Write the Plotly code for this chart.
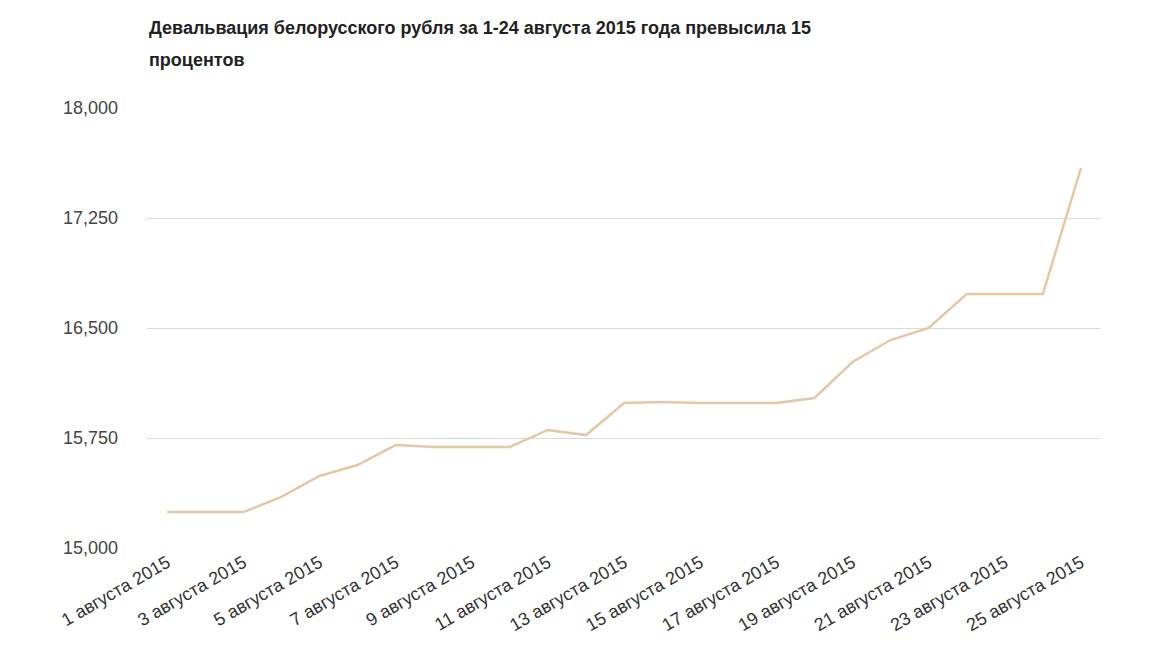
import plotly.graph_objects as go

days = list(range(1, 26))
dates = [f"{d} августа 2015" for d in days]
rates = [15245, 15245, 15245, 15348, 15491, 15566, 15702, 15689, 15689, 15689,
         15805, 15770, 15989, 15996, 15989, 15989, 15989, 16023, 16268, 16418,
         16500, 16732, 16732, 16732, 17591]
y_ticks = [15000, 15750, 16500, 17250, 18000]
x_ticks = dates[::2]
title_lines = ["Девальвация белорусского рубля за 1-24 августа 2015 года превысила 15",
               "процентов"]

fig = go.Figure(go.Scatter(
    x=dates, y=rates, mode="lines",
    line=dict(color="#e6c7a5", width=2.5),
    hoverinfo="x+y",
))

# the page adds an 8px body margin, so the figure is a bit smaller than the window
for line, ypos in zip(title_lines, [1.182, 1.109]):
    fig.add_annotation(text=f"<b>{line}</b>", x=0, y=ypos, xref="paper", yref="paper",
                       xanchor="left", yanchor="middle", showarrow=False,
                       font=dict(size=18, color="#222"))

fig.update_layout(
    width=1152, height=641,
    paper_bgcolor="white", plot_bgcolor="white",
    font=dict(family="Liberation Sans, Arial, sans-serif", color="#333"),
    margin=dict(l=139, r=60, t=100, b=101),
    showlegend=False,
    xaxis=dict(
        type="category", range=[-0.53, 24.5],
        tickvals=x_ticks, ticktext=x_ticks, tickangle=-30,
        tickfont=dict(size=18, color="#333"),
        showgrid=False, showline=False, ticks="",
    ),
    yaxis=dict(
        range=[15000, 18000], tickvals=y_ticks, tickformat=",d",
        tickfont=dict(size=18, color="#444"),
        gridcolor="#d9d9d9", zeroline=False, ticks="", ticklabelstandoff=28,
    ),
)

fig.write_html("out.html")
